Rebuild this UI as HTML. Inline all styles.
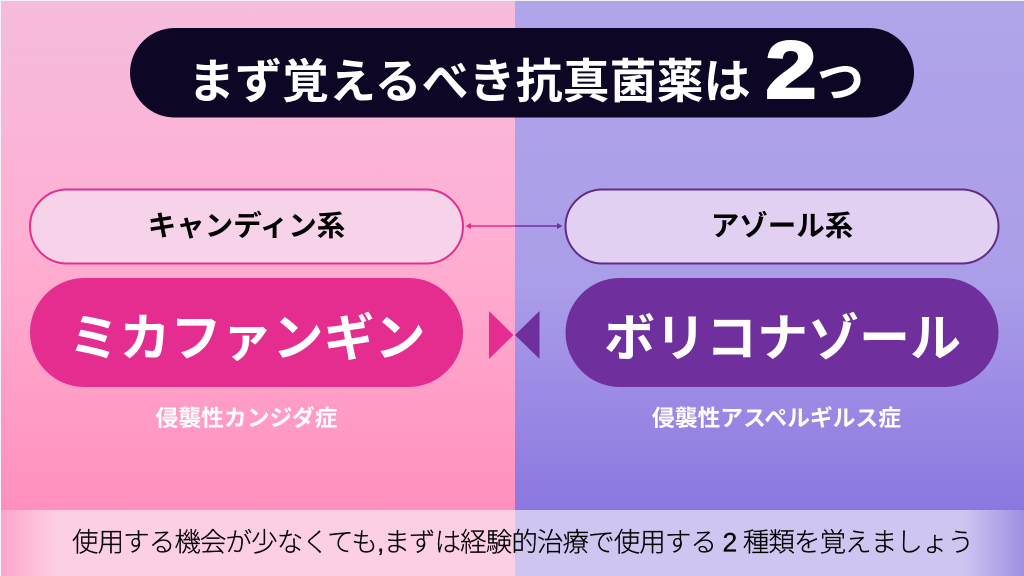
<!DOCTYPE html>
<html lang="ja"><head><meta charset="utf-8"><title>まず覚えるべき抗真菌薬は2つ</title>
<style>
html,body{margin:0;padding:0;width:1024px;height:576px;overflow:hidden;background:#f4f0f8}
svg{display:block}
text{font-family:"Liberation Sans","Noto Sans CJK JP",sans-serif}
</style></head><body>
<svg width="1024" height="576" viewBox="0 0 1024 576" xmlns="http://www.w3.org/2000/svg">
<defs>
<linearGradient id="lp" x1="0" y1="0" x2="0" y2="1"><stop offset="0" stop-color="#f5bcdc"/><stop offset=".5" stop-color="#ffaed2"/><stop offset="1" stop-color="#ff90bd"/></linearGradient>
<linearGradient id="rp" x1="0" y1="0" x2="0" y2="1"><stop offset="0" stop-color="#b0a4ea"/><stop offset=".55" stop-color="#ab9ee9"/><stop offset="1" stop-color="#8c77e0"/></linearGradient>
<linearGradient id="lb" x1="0" y1="0" x2="1" y2="0"><stop offset="0" stop-color="#fda6cb"/><stop offset=".11" stop-color="#fdcfe4"/><stop offset="1" stop-color="#fdcfe4"/></linearGradient>
<linearGradient id="rb" x1="0" y1="0" x2="1" y2="0"><stop offset="0" stop-color="#cfc5f1"/><stop offset=".88" stop-color="#cfc5f1"/><stop offset="1" stop-color="#a08fe3"/></linearGradient>
</defs>
<rect x="1" y="1" width="514" height="509" fill="url(#lp)"/>
<rect x="515" y="1" width="509" height="509" fill="url(#rp)"/>
<rect x="1" y="510" width="514" height="66" fill="url(#lb)"/>
<rect x="515" y="510" width="509" height="66" fill="url(#rb)"/>

<rect x="130" y="28" width="784" height="89.5" rx="44.7" fill="#0d0624"/>
<text x="188" y="98" font-size="47" font-weight="700" fill="#fff">まず覚えるべき抗真菌薬は</text>
<text transform="translate(765 98) scale(1.14 1)" font-size="82" font-weight="700" fill="#fff" stroke="#fff" stroke-width="2">2</text>
<text x="817" y="98" font-size="47" font-weight="700" fill="#fff">つ</text>

<rect x="30" y="189.5" width="433" height="74" rx="37" fill="#f7d3ea" stroke="#e62e8f" stroke-width="2"/>
<rect x="565.5" y="189.5" width="433" height="74" rx="37" fill="#e1d0f2" stroke="#5f2d86" stroke-width="2"/>
<text x="246.5" y="235.5" font-size="28.5" font-weight="700" fill="#000" text-anchor="middle">キャンディン系</text>
<text x="782" y="235.5" font-size="28.5" font-weight="700" fill="#000" text-anchor="middle">アゾール系</text>

<line x1="468" y1="226" x2="515" y2="226" stroke="#e62e8f" stroke-width="1.5"/>
<line x1="515" y1="226" x2="560" y2="226" stroke="#7030a0" stroke-width="1.5"/>
<polygon points="465.5,226 471,223 471,229" fill="#e62e8f"/>
<polygon points="562.5,226 557,223 557,229" fill="#7030a0"/>

<rect x="30" y="278" width="433" height="109" rx="54.5" fill="#e52d8f"/>
<rect x="565.5" y="278" width="433" height="109" rx="54.5" fill="#6f2f9c"/>
<text x="247" y="356" font-size="51" font-weight="700" fill="#fff" text-anchor="middle">ミカファンギン</text>
<text x="782.5" y="356" font-size="51" font-weight="700" fill="#fff" text-anchor="middle">ボリコナゾール</text>

<polygon points="489,311 513.5,335 489,359" fill="#e52d8f"/>
<polygon points="539.5,311 515,335 539.5,359" fill="#6f2f9c"/>

<text x="246.5" y="426" font-size="22.8" font-weight="700" fill="#fff" text-anchor="middle">侵襲性カンジダ症</text>
<text x="776.5" y="426" font-size="22.8" font-weight="700" fill="#fff" text-anchor="middle">侵襲性アスペルギルス症</text>

<text x="72" y="551.5" font-size="26.5" font-weight="300" fill="#000" stroke="#000" stroke-width=".25" textLength="902" lengthAdjust="spacing">使用する機会が少なくても,まずは経験的治療で使用する 2 種類を覚えましょう</text>
</svg>
</body></html>
